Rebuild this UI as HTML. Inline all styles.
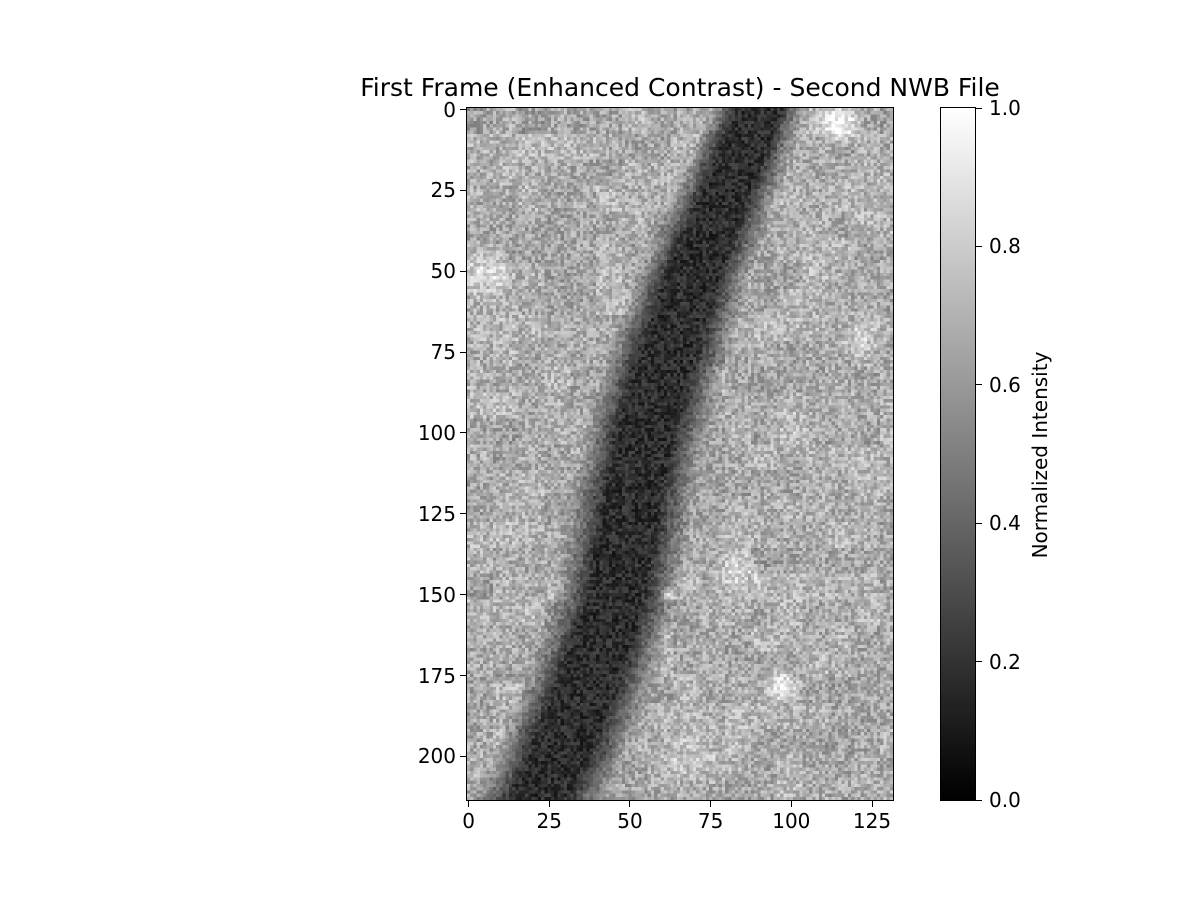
<!DOCTYPE html>
<html><head><meta charset="utf-8">
<style>
body{margin:0;background:#fff;}
#wrap{position:relative;width:1200px;height:900px;background:#fff;font-family:"DejaVu Sans","Liberation Sans",sans-serif;color:#000;}
canvas{position:absolute;image-rendering:pixelated;}
.t{position:absolute;font-size:20px;white-space:nowrap;line-height:22px;}
.tk{position:absolute;background:#000;}
</style></head><body>
<div id="wrap">
<div class="t" style="left:680px;top:73px;font-size:25px;line-height:29px;transform:translateX(-50%);">First Frame (Enhanced Contrast) - Second NWB File</div>
<canvas id="img" width="132" height="214" style="left:467px;top:108px;width:426px;height:692px;"></canvas>
<div style="position:absolute;left:466px;top:107px;width:426px;height:692px;border:1px solid #000;"></div>
<canvas id="cb" width="1" height="256" style="left:941px;top:108px;width:34px;height:692px;image-rendering:auto;"></canvas>
<div style="position:absolute;left:940px;top:107px;width:34px;height:692px;border:1px solid #000;"></div>
<div class="t" style="left:1040px;top:455px;transform:translate(-50%,-50%) rotate(-90deg);">Normalized Intensity</div>
<div id="ticks"></div>
</div>
<script>
// vessel centerline data (row -> column)
const vesselRows=[0,25,50,75,100,125,150,175,200,213];
const vesselCenters=[90,80,70,62,55,50,46,38,28,22];
const vesselWidths=[22,24,26,28,28,28,28,30,30,30];
// bright patches [col,row,radius,strength]
const brightSpots=[[5,50,10,0.25],[83,145,9,0.2],[97,178,6,0.3],[62,150,3,0.35],[115,5,8,0.3],[120,70,8,0.15],[100,100,10,0.1],[70,195,15,0.12]];
const xTicks=[0,25,50,75,100,125];
const yTicks=[0,25,50,75,100,125,150,175,200];
const cbTicks=[0.0,0.2,0.4,0.6,0.8,1.0];

const X0=467,W=426,Y0=108,H=692,NC=132,NR=214;
const xs=c=>X0+(c+0.5)*W/NC, ys=r=>Y0+(r+0.5)*H/NR;
function hash(i,j){let h=(i*374761393+j*668265263)|0;h=(h^(h>>>13))*1274126177|0;return ((h^(h>>>16))>>>0)/4294967295;}
function interp(arr,r){for(let k=0;k<vesselRows.length-1;k++){if(r<=vesselRows[k+1]){const t=(r-vesselRows[k])/(vesselRows[k+1]-vesselRows[k]);return arr[k]+t*(arr[k+1]-arr[k]);}}return arr[arr.length-1];}
const ctx=document.getElementById('img').getContext('2d');
const im=ctx.createImageData(NC,NR);
for(let r=0;r<NR;r++)for(let c=0;c<NC;c++){
  let v=0.68+(hash(c,r)-0.5)*0.3+(hash(c>>3,r>>3)-0.5)*0.1;
  const cen=interp(vesselCenters,r),w=interp(vesselWidths,r);
  const d=Math.abs(c-cen)/(w/2);
  const dark=d<0.6?1:(d<1.4?(1.4-d)/0.8:0);
  v=v*(1-dark)+dark*(0.18+(hash(c+7,r+3)-0.5)*0.22);
  for(const s of brightSpots){const dd=Math.hypot(c-s[0],r-s[1]);if(dd<s[2])v+=s[3]*(1-dd/s[2]);}
  v=Math.max(0,Math.min(1,v));const g=Math.round(v*255),p=(r*NC+c)*4;
  im.data[p]=im.data[p+1]=im.data[p+2]=g;im.data[p+3]=255;}
ctx.putImageData(im,0,0);
const cb=document.getElementById('cb').getContext('2d');
const gr=cb.createLinearGradient(0,0,0,256);gr.addColorStop(0,'#fff');gr.addColorStop(1,'#000');cb.fillStyle=gr;cb.fillRect(0,0,1,256);
const T=document.getElementById('ticks');
function add(cls,style,txt,name){const e=document.createElement('div');e.className=cls;e.style.cssText=style;if(txt!==undefined)e.textContent=txt;


T.appendChild(e);}
xTicks.forEach(v=>{const x=xs(v);add('tk',`left:${x-0.5}px;top:800px;width:1px;height:7px;`,undefined,'x-tick');add('t',`left:${x}px;top:810px;transform:translateX(-50%);`,String(v),'x-tick-label');});
yTicks.forEach(v=>{const y=ys(v);add('tk',`left:460px;top:${y-0.5}px;width:7px;height:1px;`,undefined,'y-tick');add('t',`right:${1200-456}px;top:${y-11}px;`,String(v),'y-tick-label');});
cbTicks.forEach(v=>{const y=800-v*692;add('tk',`left:975px;top:${y-0.5}px;width:7px;height:1px;`,undefined,'colorbar-tick');add('t',`left:989px;top:${y-11}px;`,v.toFixed(1),'colorbar-tick-label');});
</script>
</body></html>
